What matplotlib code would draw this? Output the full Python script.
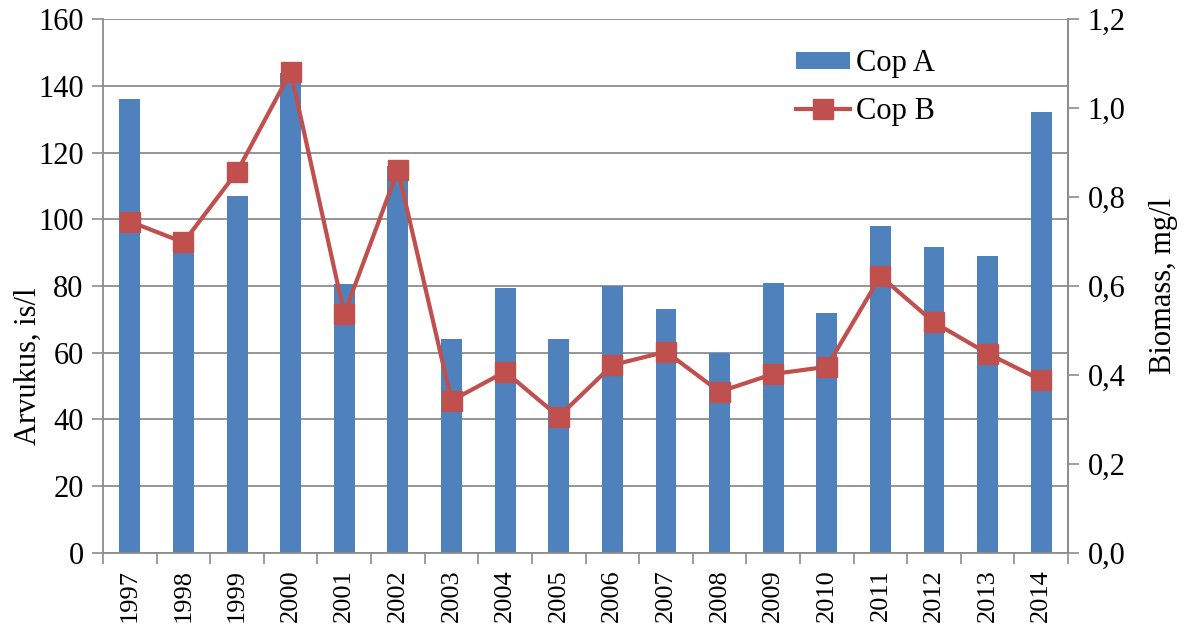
import matplotlib
matplotlib.use("Agg")
import matplotlib.pyplot as plt
import numpy as np
from matplotlib.ticker import FixedLocator, FuncFormatter

years = ["1997", "1998", "1999", "2000", "2001", "2002", "2003", "2004", "2005",
         "2006", "2007", "2008", "2009", "2010", "2011", "2012", "2013", "2014"]
cop_a = [136.0, 91.0, 107.0, 144.0, 80.5, 116.0, 64.0, 79.5, 64.0,
         80.0, 73.0, 60.0, 81.0, 72.0, 98.0, 91.6, 89.0, 132.1]
cop_b = [0.745, 0.698, 0.857, 1.082, 0.537, 0.861, 0.342, 0.407, 0.306,
         0.422, 0.452, 0.362, 0.402, 0.418, 0.622, 0.518, 0.448, 0.388]

plt.rcParams['font.family'] = ['Liberation Serif', 'DejaVu Serif']
FS = 22
XFS = 19
GRAY = '#8c8c8c'
BLUE = '#4F81BD'
RED = '#C0504D'

fig = plt.figure(figsize=(11.87, 6.25), dpi=100)
ax = fig.add_axes([0.0868, 0.1158, 0.8130, 0.8533])
ax2 = ax.twinx()

x = np.arange(len(years))
bars = ax.bar(x, cop_a, width=0.39, color=BLUE, label='Cop A', zorder=2)
line, = ax2.plot(x, cop_b, color=RED, lw=3.0, marker='s', markersize=14,
                 markerfacecolor=RED, markeredgecolor=RED, label='Cop B', zorder=3)

ax.set_xlim(-0.5, len(years) - 0.5)
ax.set_ylim(0, 160)
ax2.set_ylim(0, 1.2)
ax.set_yticks(np.arange(0, 161, 20))
ax2.set_yticks(np.arange(0, 1.21, 0.2))
ax2.yaxis.set_major_formatter(FuncFormatter(lambda v, p: f"{v:.1f}".replace('.', ',')))

ax.set_xticks(x)
ax.set_xticklabels(years, rotation=90, fontsize=XFS)
ax.xaxis.set_minor_locator(FixedLocator(np.arange(-0.5, len(years), 1.0)))
ax.tick_params(axis='x', which='major', length=0, pad=12)
ax.tick_params(axis='x', which='minor', length=8, color=GRAY, width=1.2)
ax.tick_params(axis='y', length=8, color=GRAY, width=1.2, labelsize=FS, pad=6)
ax2.tick_params(axis='y', length=8, color=GRAY, width=1.2, labelsize=FS, pad=6)

ax.grid(axis='y', color=GRAY, lw=1.3, zorder=0)
ax.set_axisbelow(True)

for s in ['top']:
    ax.spines[s].set_visible(False)
    ax2.spines[s].set_visible(False)
for s in ['left', 'bottom', 'right']:
    ax.spines[s].set_color(GRAY)
    ax.spines[s].set_linewidth(1.3)
    ax2.spines[s].set_color(GRAY)
    ax2.spines[s].set_linewidth(1.3)
ax2.spines['left'].set_visible(False)
ax2.spines['bottom'].set_visible(False)

ax.set_ylabel('Arvukus, is/l', fontsize=FS)
ax.yaxis.set_label_coords(-0.062, 0.35)
ax2.set_ylabel('Biomass, mg/l', fontsize=FS, labelpad=17)

leg = ax2.legend([bars, line], ['Cop A', 'Cop B'], loc='upper left',
                 bbox_to_anchor=(778 / 1187, 1 - 31 / 625), bbox_transform=fig.transFigure,
                 frameon=False, fontsize=FS, handlelength=1.75, handleheight=0.45,
                 handletextpad=0.2, labelspacing=0.6, borderpad=0.1)

fig.savefig('out.png', dpi=100)
